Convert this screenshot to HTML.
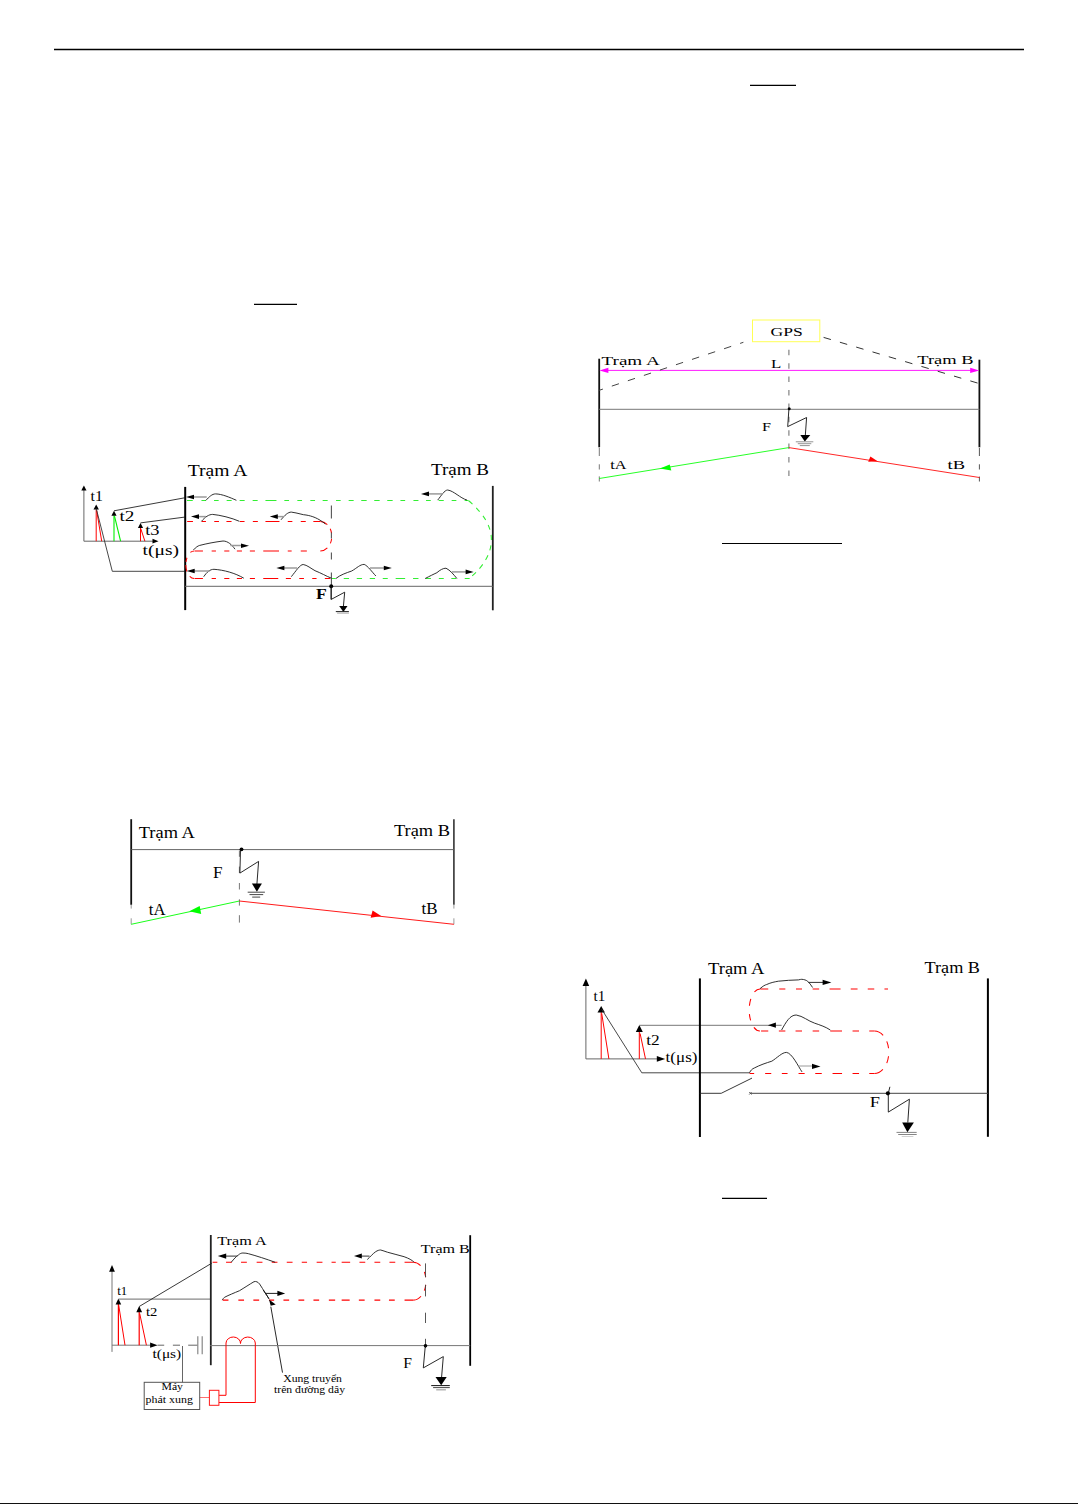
<!DOCTYPE html>
<html><head><meta charset="utf-8"><style>
html,body{margin:0;padding:0;background:#fff;}
body{width:1078px;height:1504px;overflow:hidden;position:relative;}
svg{position:absolute;left:0;top:0;}
text{font-family:"Liberation Serif", serif;}
</style></head><body>
<svg width="1078" height="1504" viewBox="0 0 1078 1504">
<path d="M54 49.5 H1024" fill="none" stroke="#000" stroke-width="1.6" />
<path d="M254 304.4 H297" fill="none" stroke="#000" stroke-width="1.4" />
<path d="M750 85.4 H796" fill="none" stroke="#000" stroke-width="1.4" />
<path d="M722 543.5 H842" fill="none" stroke="#000" stroke-width="1.2" />
<path d="M722 1198.4 H767" fill="none" stroke="#000" stroke-width="1.4" />
<rect x="0" y="1503" width="1078" height="1" fill="#111"/>
<path d="M83.9 541.2 V490" fill="none" stroke="#666" stroke-width="1" /><polygon points="83.9,485.6 81.30000000000001,490.6 86.5,490.6" fill="#000"/><path d="M83.9 541.2 H153" fill="none" stroke="#666" stroke-width="1" /><polygon points="158.5,541.2 152.5,538.8000000000001 152.5,543.6" fill="#000"/><path d="M96.2 541.2 V509.5" fill="none" stroke="#ff0000" stroke-width="1" /><path d="M96.7 510.6 L101.7 541.2" fill="none" stroke="#ff0000" stroke-width="1" /><polygon points="96.2,504.5 93.5,509.5 98.9,509.5" fill="#000"/><path d="M114 541.2 V515.6" fill="none" stroke="#00f000" stroke-width="1.1" /><path d="M114.5 516.2 L120.6 541.2" fill="none" stroke="#00f000" stroke-width="1.1" /><polygon points="114,510.8 111.4,515.8 116.6,515.8" fill="#000"/><path d="M140.5 541.2 V527.9" fill="none" stroke="#ff0000" stroke-width="1" /><path d="M140.7 528.4 L144.9 541.2" fill="none" stroke="#ff0000" stroke-width="1" /><polygon points="140.5,522.9 137.9,527.9 143.1,527.9" fill="#000"/><path d="M96.2 508.4 L112.3 571.3 H184.7" fill="none" stroke="#333" stroke-width="0.9" /><path d="M114 510.8 L184.7 497.8" fill="none" stroke="#222" stroke-width="0.9" /><path d="M140.5 522.9 L184.7 517.1" fill="none" stroke="#222" stroke-width="0.9" /><text x="90.5" y="501" font-size="15" font-weight="normal" fill="#000" textLength="12.3" lengthAdjust="spacingAndGlyphs" >t1</text><text x="119.5" y="520.6" font-size="15" font-weight="normal" fill="#000" textLength="15.0" lengthAdjust="spacingAndGlyphs" >t2</text><text x="145.2" y="534.6" font-size="15" font-weight="normal" fill="#000" textLength="14.3" lengthAdjust="spacingAndGlyphs" >t3</text><text x="142.5" y="555.2" font-size="15" font-weight="normal" fill="#000" textLength="36.5" lengthAdjust="spacingAndGlyphs" >t(&#956;s)</text><text x="187.8" y="475.8" font-size="16" font-weight="normal" fill="#000" textLength="59.7" lengthAdjust="spacingAndGlyphs" >Tr&#7841;m A</text><text x="431" y="475" font-size="16" font-weight="normal" fill="#000" textLength="58.0" lengthAdjust="spacingAndGlyphs" >Tr&#7841;m B</text><text x="316" y="599" font-size="14.5" font-weight="bold" fill="#000" textLength="10.8" lengthAdjust="spacingAndGlyphs" >F</text><path d="M185.2 486.9 V610.1" fill="none" stroke="#000" stroke-width="2" /><path d="M492.8 485.9 V610.3" fill="none" stroke="#222" stroke-width="1.8" /><path d="M186.95 500.5 H192.75 M201.45 500.5 H206.05 M214.05 500.5 H218.65 M226.65 500.5 H231.65 M239.65 500.5 H244.65 M252.65 500.5 H257.65 M265.45 500.5 H276.45 M284.35 500.5 H289.05 M297.35 500.5 H302.05 M310.35 500.5 H315.05 M322.65 500.5 H327.65 M336.05 500.5 H340.65 M348.65 500.5 H353.65 M361.25 500.5 H366.65 M374.25 500.5 H379.65 M387.25 500.5 H392.65 M400.45 500.5 H405.15 M413.45 500.5 H418.45 M426.05 500.5 H430.75 M438.65 500.5 H443.75 M451.65 500.5 H456.35 M464.65 500.5 H468.15" fill="none" stroke="#33ee33" stroke-width="1.05" /><path d="M468.4 500.5 Q491.4 520 491.4 539.5 Q491.4 560 469.3 578.5" fill="none" stroke="#33ee33" stroke-width="1.05" stroke-dasharray="5.2 5.3" /><path d="M331.65 578.5 H335.75 M343.75 578.5 H349.05 M356.75 578.5 H362.05 M369.75 578.5 H375.05 M382.75 578.5 H387.75 M395.65 578.5 H405.15 M413.05 578.5 H418.45 M425.55 578.5 H430.95 M438.85 578.5 H443.75 M451.35 578.5 H456.25 M464.75 578.5 H469.65" fill="none" stroke="#33ee33" stroke-width="1.05" /><path d="M187.15 521.5 H192.95 M201.65 521.5 H205.95 M214.25 521.5 H218.95 M226.45 521.5 H231.55 M239.85 521.5 H244.55 M252.85 521.5 H257.85 M265.45 521.5 H279.45 M287.75 521.5 H292.35 M300.75 521.5 H305.75 M313.35 521.5 H320.15" fill="none" stroke="#ff0000" stroke-width="1.05" /><path d="M320.3 521.5 A11.5 14.75 0 0 1 331.8 536.25 A11.5 14.75 0 0 1 320.3 551" fill="none" stroke="#ff0000" stroke-width="1.05" stroke-dasharray="7.9 5 4.7 5.5 4.7 5.4 8.2 20" /><path d="M194.55 551.0 H202.95 M211.65 551.0 H215.95 M224.25 551.0 H229.35 M236.85 551.0 H241.95 M249.85 551.0 H254.95 M263.25 551.0 H279.05 M287.75 551.0 H291.65 M300.75 551.0 H306.85" fill="none" stroke="#ff0000" stroke-width="1.05" /><path d="M194.1 551 A8.3 13.75 0 0 0 185.8 564.75 A8.3 13.75 0 0 0 194.1 578.5" fill="none" stroke="#ff0000" stroke-width="1.05" stroke-dasharray="4.1 6.3 4.2 3.2 6.5 5.6 5.3 20" /><path d="M194.55 578.5 H202.95 M211.65 578.5 H215.95 M224.25 578.5 H229.35 M236.85 578.5 H241.95 M249.85 578.5 H254.95 M263.25 578.5 H278.25 M285.85 578.5 H290.95 M299.25 578.5 H303.95 M312.25 578.5 H316.55 M324.85 578.5 H330.25" fill="none" stroke="#ff0000" stroke-width="1.05" /><path d="M331.4 505.5 V518.5 M331.4 532.5 V538.5 M331.4 552.5 V559.5 M331.4 572.5 V599" fill="none" stroke="#555" stroke-width="1.1" /><path d="M185 586.3 H492.8" fill="none" stroke="#666" stroke-width="1" /><circle cx="331.2" cy="586.3" r="2" fill="#000"/><path d="M331 586.3 V599.5 L344.7 592.2 L343.4 606.5" fill="none" stroke="#111" stroke-width="0.9" /><polygon points="339.2,606 347.5,606 343.4,612" fill="#000"/><path d="M335.8 611.6 H348.9" fill="none" stroke="#222" stroke-width="1" /><path d="M337.1 613.1 H348.9" fill="none" stroke="#bbb" stroke-width="1.4" /><path d="M206 500.3 C209 497 212 493.9 215.6 493.9 C222 494 230 497.5 236.4 500.3" fill="none" stroke="#1a1a1a" stroke-width="0.9" /><path d="M206.7 497 H194" fill="none" stroke="#9a9a9a" stroke-width="1.5" /><polygon points="186,497 194,494.7 194,499.3" fill="#000"/><path d="M201.5 521.3 C205 517 209 514.4 212.6 514.4 C220 515 232 518 239.4 521.3" fill="none" stroke="#1a1a1a" stroke-width="0.9" /><path d="M206 516.6 H198" fill="none" stroke="#9a9a9a" stroke-width="1.5" /><polygon points="191,516.6 199,514.3000000000001 199,518.9" fill="#000"/><path d="M281 519.8 C285 515 288 512.1 291.3 512.1 C298 513 303 515 306 515 C312 516 318 518 325.4 524" fill="none" stroke="#1a1a1a" stroke-width="0.9" /><path d="M283.9 516.6 H277" fill="none" stroke="#9a9a9a" stroke-width="1.5" /><polygon points="269.8,516.6 277.8,514.3000000000001 277.8,518.9" fill="#000"/><path d="M193.4 550 C196 547 198 546 199.3 545.5 C207 543.5 215 542 223 541 C228 541 232 545 235 549.2" fill="none" stroke="#1a1a1a" stroke-width="0.9" /><path d="M230.4 545.5 H242" fill="none" stroke="#9a9a9a" stroke-width="1.5" /><polygon points="249,545.8 241,543.5 241,548.0999999999999" fill="#000"/><path d="M203.7 576.7 C207 572 210 569.3 214 569.3 C224 570 235 573 243.8 578.2" fill="none" stroke="#1a1a1a" stroke-width="0.9" /><path d="M209.7 571 H194" fill="none" stroke="#9a9a9a" stroke-width="1.5" /><polygon points="186.7,571 194.7,568.7 194.7,573.3" fill="#000"/><path d="M291.3 576.7 C296 571 300 564.5 303.2 564.5 C307 565 311 568.5 315 570.7 C321 573 326 576 331.4 578.2" fill="none" stroke="#1a1a1a" stroke-width="0.9" /><path d="M297.2 568 H284" fill="none" stroke="#9a9a9a" stroke-width="1.5" /><polygon points="276.4,568 284.4,565.7 284.4,570.3" fill="#000"/><path d="M437.7 500.1 C441 496 444.5 490 447.7 490 C454 491 460 498 467 500.1" fill="none" stroke="#1a1a1a" stroke-width="0.9" /><path d="M442.7 493.9 H428" fill="none" stroke="#9a9a9a" stroke-width="1.5" /><polygon points="421,493.9 429,491.59999999999997 429,496.2" fill="#000"/><path d="M335.9 578.5 C340 575 346 573 351.7 571 C357 568 360 564.4 364.2 564.4 C368 566 372 572 375.9 576" fill="none" stroke="#1a1a1a" stroke-width="0.9" /><path d="M370 568 H385" fill="none" stroke="#9a9a9a" stroke-width="1.5" /><polygon points="391.8,568 383.8,565.7 383.8,570.3" fill="#000"/><path d="M425.2 578.5 C430 576 433 574.5 436.9 572.7 C440 570 443 568.2 446 568.2 C450 570 454 575 456.9 578.5" fill="none" stroke="#1a1a1a" stroke-width="0.9" /><path d="M451.9 571.9 H467" fill="none" stroke="#9a9a9a" stroke-width="1.5" /><polygon points="473.6,571.9 465.6,569.6 465.6,574.1999999999999" fill="#000"/>
<path d="M599.2 358.7 V447.3" fill="none" stroke="#111" stroke-width="1.8" /><path d="M599.3 448 V456 M599.3 464.3 V469.5 M599.3 476.4 V481.5" fill="none" stroke="#777" stroke-width="1" /><path d="M979.4 359.7 V447.3" fill="none" stroke="#111" stroke-width="1.8" /><path d="M979.4 448 V456 M979.4 464.3 V469.5 M979.4 476.6 V481.5" fill="none" stroke="#555" stroke-width="1" /><text x="601.5" y="364.8" font-size="13.2" font-weight="normal" fill="#000" textLength="58.3" lengthAdjust="spacingAndGlyphs" >Tr&#7841;m A</text><text x="917.3" y="363.7" font-size="13.5" font-weight="normal" fill="#000" textLength="56.3" lengthAdjust="spacingAndGlyphs" >Tr&#7841;m B</text><path d="M607 370.4 H971" fill="none" stroke="#ff00ff" stroke-width="0.9" /><polygon points="599.4,370.4 608.4,367.79999999999995 608.4,373.0" fill="#ff00ff"/><polygon points="979.2,370.4 970.2,367.79999999999995 970.2,373.0" fill="#ff00ff"/><path d="M599.2 390.3 L743.4 342.3" fill="none" stroke="#444" stroke-width="1" stroke-dasharray="7.5 9.4" stroke-dashoffset="3.6"/><path d="M823.6 337.4 L979.4 383.6" fill="none" stroke="#333" stroke-width="1" stroke-dasharray="7.6 9.4" /><rect x="752.5" y="320" width="67.3" height="21.7" fill="none" stroke="#ffff55" stroke-width="1"/><text x="770.6" y="336.1" font-size="13" font-weight="normal" fill="#000" textLength="32.2" lengthAdjust="spacingAndGlyphs" >GPS</text><text x="771" y="367.8" font-size="13" font-weight="normal" fill="#000" textLength="10.3" lengthAdjust="spacingAndGlyphs" >L</text><path d="M788.9 349.8 V481.6" fill="none" stroke="#777" stroke-width="1.1" stroke-dasharray="5.5 7.9" /><path d="M599.2 409.3 H979.4" fill="none" stroke="#777" stroke-width="1" /><circle cx="789.2" cy="408.8" r="1.5" fill="#000"/><path d="M788.9 409.2 L787.7 426.6 L806.6 417.5 L805.3 435.6" fill="none" stroke="#111" stroke-width="0.9" /><polygon points="800.3,435.1 810.3,435.1 804.8,441.6" fill="#000"/><path d="M795.8 441.8 H813.3 M797.8 443.7 H811.3 M799.8 445.6 H809.8" fill="none" stroke="#888" stroke-width="0.9" /><text x="762" y="430.6" font-size="13" font-weight="normal" fill="#000" textLength="9.0" lengthAdjust="spacingAndGlyphs" >F</text><path d="M788.9 447.6 L599.2 478.5" fill="none" stroke="#00ff00" stroke-width="0.85" /><polygon points="660,468.4 669.7,464.5 671.3,470.6" fill="#00ff00"/><path d="M788.9 447.6 L979.4 477.5" fill="none" stroke="#ff0000" stroke-width="0.85" /><polygon points="877.6,461.3 870.4,456.5 868.2,461.7" fill="#ff0000"/><text x="610.2" y="469.4" font-size="13" font-weight="normal" fill="#000" textLength="16.3" lengthAdjust="spacingAndGlyphs" >tA</text><text x="947.5" y="469.4" font-size="13" font-weight="normal" fill="#000" textLength="17.5" lengthAdjust="spacingAndGlyphs" >tB</text>
<path d="M131.2 819.2 V904.8" fill="none" stroke="#111" stroke-width="1.8" /><path d="M131.2 904.8 V908.6 M131.2 918.3 V924.3" fill="none" stroke="#999" stroke-width="1" /><path d="M453.9 819.2 V904.8" fill="none" stroke="#333" stroke-width="1.6" /><path d="M453.9 904.8 V908.6 M453.9 918.3 V924.3" fill="none" stroke="#999" stroke-width="1" /><text x="138.8" y="837.5" font-size="16" font-weight="normal" fill="#000" textLength="56.0" lengthAdjust="spacingAndGlyphs" >Tr&#7841;m A</text><text x="394" y="835.9" font-size="16" font-weight="normal" fill="#000" textLength="56.0" lengthAdjust="spacingAndGlyphs" >Tr&#7841;m B</text><path d="M131.4 849.6 H453.6" fill="none" stroke="#666" stroke-width="1" /><circle cx="241.5" cy="849.3" r="1.9" fill="#000"/><path d="M239.4 850.5 V856.8 M239.4 866.6 V873 M239.4 883 V889.5 M239.4 899.3 V905.6 M239.4 915.2 V922.6" fill="none" stroke="#777" stroke-width="1" /><path d="M240.5 850 L239.9 873.1 L258.6 861.4 L256.9 884.3" fill="none" stroke="#111" stroke-width="0.9" /><polygon points="251.9,883.5 261.9,883.5 256.9,891.8" fill="#000"/><path d="M247.7 892.2 H264.9 M249.5 894.6 H263.2 M252.2 897.1 H260.2" fill="none" stroke="#333" stroke-width="0.9" /><text x="213" y="877.9" font-size="17" font-weight="normal" fill="#000" textLength="9.5" lengthAdjust="spacingAndGlyphs" >F</text><path d="M239.4 901 L131.2 924.3" fill="none" stroke="#00ff00" stroke-width="0.9" /><polygon points="189.3,911.3 199.7,906.1 201.2,913.9" fill="#00ff00"/><path d="M239.4 901 L453.9 924.3" fill="none" stroke="#ff0000" stroke-width="0.9" /><polygon points="381.2,916.1 372.6,910.6 370.6,917.8" fill="#ff0000"/><text x="148.8" y="914.8" font-size="16" font-weight="normal" fill="#000" textLength="16.7" lengthAdjust="spacingAndGlyphs" >tA</text><text x="421.5" y="914.1" font-size="16" font-weight="normal" fill="#000" textLength="16.0" lengthAdjust="spacingAndGlyphs" >tB</text>
<path d="M585.9 1058.9 V985" fill="none" stroke="#666" stroke-width="1" /><polygon points="585.9,978.4 582.6,985.9 589.1999999999999,985.9" fill="#000"/><path d="M585.9 1058.9 H657" fill="none" stroke="#666" stroke-width="1" /><polygon points="665.2,1058.9 656.8000000000001,1056.1000000000001 656.8000000000001,1061.7" fill="#000"/><text x="593.6" y="1001.2" font-size="15" font-weight="normal" fill="#000" textLength="11.7" lengthAdjust="spacingAndGlyphs" >t1</text><path d="M601.2 1058.9 V1012" fill="none" stroke="#ff0000" stroke-width="1" /><path d="M601.7 1013.4 L608.9 1058.9" fill="none" stroke="#ff0000" stroke-width="1" /><polygon points="601.2,1005.9 597.5,1012.6 604.9000000000001,1012.6" fill="#000"/><path d="M601.7 1009.3 L641.8 1072.8 H749.4" fill="none" stroke="#333" stroke-width="0.9" /><path d="M639.3 1058.9 V1032" fill="none" stroke="#ff0000" stroke-width="1" /><path d="M640.1 1033.5 L645.5 1058.9" fill="none" stroke="#ff0000" stroke-width="1" /><polygon points="639.3,1025.1 635.8,1032.1 642.8,1032.1" fill="#000"/><path d="M639.3 1025.3 H781.6" fill="none" stroke="#777" stroke-width="1" /><polygon points="767.9,1025.2 775.9,1022.6 775.9,1027.8" fill="#000"/><text x="646.3" y="1044.8" font-size="15" font-weight="normal" fill="#000" textLength="13.5" lengthAdjust="spacingAndGlyphs" >t2</text><text x="665.6" y="1061.6" font-size="14.5" font-weight="normal" fill="#000" textLength="31.9" lengthAdjust="spacingAndGlyphs" >t(&#956;s)</text><path d="M699.9 978.4 V1137" fill="none" stroke="#000" stroke-width="2" /><path d="M987.9 978.4 V1136.8" fill="none" stroke="#000" stroke-width="2" /><text x="708.1" y="973.9" font-size="16" font-weight="normal" fill="#000" textLength="56.4" lengthAdjust="spacingAndGlyphs" >Tr&#7841;m A</text><text x="924.5" y="972.5" font-size="16" font-weight="normal" fill="#000" textLength="55.5" lengthAdjust="spacingAndGlyphs" >Tr&#7841;m B</text><path d="M760.25 989.0 H768.25 M779.25 989.0 H785.35 M795.95 989.0 H802.05 M812.65 989.0 H819.15 M829.55 989.0 H840.55 M850.75 989.0 H857.55 M867.75 989.0 H874.25 M884.45 989.0 H888.05" fill="none" stroke="#ff0000" stroke-width="1.05" /><path d="M760 989 A10.8 21 0 0 0 749.2 1010 A10.8 21 0 0 0 760 1031" fill="none" stroke="#ff0000" stroke-width="1.05" stroke-dasharray="6.6 7.8 6.8 8.5 6.2 7.5 7.4 20" /><path d="M761.05 1031.0 H768.25 M778.85 1031.0 H785.35 M795.55 1031.0 H802.05 M812.65 1031.0 H819.15 M830.25 1031.0 H842.05 M852.55 1031.0 H859.05 M869.25 1031.0 H874.35" fill="none" stroke="#ff0000" stroke-width="1.05" /><path d="M874.4 1031 A14.4 21.25 0 0 1 888.8 1052.25 A14.4 21.25 0 0 1 874.4 1073.5" fill="none" stroke="#ff0000" stroke-width="1.05" stroke-dasharray="10.1 7 6.9 8.2 6.9 7.3 10.5 20" /><path d="M749.55 1073.5 H754.15 M765.15 1073.5 H771.25 M781.85 1073.5 H787.55 M798.55 1073.5 H804.65 M815.25 1073.5 H821.75 M832.55 1073.5 H842.05 M852.55 1073.5 H859.05 M869.25 1073.5 H874.35" fill="none" stroke="#ff0000" stroke-width="1.05" /><path d="M760 988.7 C763 986 765 985 766.7 984.5 C771 982.5 775 981.8 778.4 981.2 C785 980.5 792 980 798.4 979.9 C800 979.5 801 979.3 801.8 979.3 C804 979.5 806 980 807.6 981.2 C809.5 983 811 985 812.6 987.5" fill="none" stroke="#1a1a1a" stroke-width="0.9" /><path d="M808.4 982.4 H823" fill="none" stroke="#333" stroke-width="1" /><polygon points="831.4,982.4 822.6,979.6999999999999 822.6,985.1" fill="#000"/><path d="M781.6 1030 C786 1022 790 1015 796.2 1015 C803 1016 808 1021 814.7 1023.2 C820 1025 826 1027 830.3 1030" fill="none" stroke="#1a1a1a" stroke-width="0.9" /><path d="M749.4 1072.9 C751 1070 752 1069 754.3 1068 C760 1065 766 1063 771.8 1061.2 C777 1058 782 1052.4 786.4 1052.4 C792 1053 798 1066 802 1071.9" fill="none" stroke="#1a1a1a" stroke-width="0.9" /><path d="M799.1 1066 H812" fill="none" stroke="#9a9a9a" stroke-width="1" /><polygon points="820.5,1066.4 812.0,1063.8000000000002 812.0,1069.0" fill="#000"/><path d="M699.7 1093.3 H721.2 L752 1078.1" fill="none" stroke="#222" stroke-width="0.9" /><path d="M750.4 1093.3 H987.9" fill="none" stroke="#444" stroke-width="1" /><path d="M749.2 1092 L751.6 1094.6 M749.2 1094.6 L751.6 1092" fill="none" stroke="#444" stroke-width="0.8" /><path d="M889.9 1086.8 L888.3 1093.3 L888.3 1112.1 L909.4 1099.2 L907.8 1122.5" fill="none" stroke="#111" stroke-width="0.9" /><circle cx="887.9" cy="1093.3" r="2.1" fill="#000"/><polygon points="902.2,1122.5 913.9,1122.5 907.4,1132.3" fill="#000"/><path d="M896.5 1132.4 H916.7 M898.2 1134.5 H916.7" fill="none" stroke="#777" stroke-width="0.9" /><path d="M901.7 1136.5 H913.4" fill="none" stroke="#ccc" stroke-width="0.9" /><text x="869.8" y="1107" font-size="14" font-weight="normal" fill="#000" textLength="10.2" lengthAdjust="spacingAndGlyphs" >F</text>
<path d="M112 1351.9 V1271" fill="none" stroke="#777" stroke-width="1" /><polygon points="112,1265 109.1,1271.8 114.9,1271.8" fill="#000"/><path d="M112 1345.2 H151" fill="none" stroke="#777" stroke-width="1" /><polygon points="157.6,1345.2 150.1,1342.6000000000001 150.1,1347.8" fill="#000"/><path d="M157.5 1345.2 H164.2 M172.9 1345.2 H180 M188.2 1345.2 H197.7" fill="none" stroke="#666" stroke-width="1" /><path d="M182.5 1346 V1382.3" fill="none" stroke="#555" stroke-width="0.9" /><path d="M197.8 1336.2 V1354.3 M202.2 1336.2 V1354.3" fill="none" stroke="#888" stroke-width="1.2" /><text x="117.2" y="1295" font-size="12.8" font-weight="normal" fill="#000" textLength="10.0" lengthAdjust="spacingAndGlyphs" >t1</text><path d="M118.4 1345.2 V1304" fill="none" stroke="#ff0000" stroke-width="1.2" /><path d="M118.7 1305.1 L125 1345.2" fill="none" stroke="#ff0000" stroke-width="1" /><polygon points="118.4,1298.5 115.60000000000001,1304.5 121.2,1304.5" fill="#000"/><path d="M118.7 1299.1 H210.2" fill="none" stroke="#888" stroke-width="1.4" /><path d="M139.2 1345.2 V1312" fill="none" stroke="#ff0000" stroke-width="1.2" /><path d="M139.7 1313.5 L146.4 1345.2" fill="none" stroke="#ff0000" stroke-width="1" /><polygon points="139.2,1306 136.29999999999998,1312.2 142.1,1312.2" fill="#000"/><path d="M139.2 1306.5 L211.9 1263.1" fill="none" stroke="#222" stroke-width="0.9" /><text x="146" y="1315.8" font-size="12.8" font-weight="normal" fill="#000" textLength="11.4" lengthAdjust="spacingAndGlyphs" >t2</text><text x="152.5" y="1358.4" font-size="12.8" font-weight="normal" fill="#000" textLength="28.7" lengthAdjust="spacingAndGlyphs" >t(&#956;s)</text><path d="M210.8 1235 V1365.2" fill="none" stroke="#222" stroke-width="1.8" /><path d="M470.2 1235.2 V1365.8" fill="none" stroke="#000" stroke-width="1.8" /><text x="217.3" y="1245.4" font-size="13.5" font-weight="normal" fill="#000" textLength="49.3" lengthAdjust="spacingAndGlyphs" >Tr&#7841;m A</text><text x="420.8" y="1252.6" font-size="13.5" font-weight="normal" fill="#000" textLength="48.9" lengthAdjust="spacingAndGlyphs" >Tr&#7841;m B</text><path d="M212.65 1262.3 H217.35 M226.05 1262.3 H231.85 M241.05 1262.3 H246.85 M256.65 1262.3 H262.45 M271.75 1262.3 H277.45 M286.75 1262.3 H292.55 M301.75 1262.3 H307.05 M316.65 1262.3 H322.45 M331.55 1262.3 H335.75 M341.65 1262.3 H350.15 M359.45 1262.3 H365.25 M374.45 1262.3 H380.25 M389.45 1262.3 H395.25 M404.55 1262.3 H413.35" fill="none" stroke="#ff0000" stroke-width="1.05" /><path d="M413.4 1262.3 A12.6 18.9 0 0 1 426 1281.2 A12.6 18.9 0 0 1 413.4 1300.1" fill="none" stroke="#ff0000" stroke-width="1.05" stroke-dasharray="8.2 7.2 5.3 7.9 5.8 6.4 9.2 20" /><path d="M222.75 1300.1 H228.45 M238.35 1300.1 H244.05 M253.35 1300.1 H259.15 M268.95 1300.1 H274.15 M283.45 1300.1 H289.15 M298.45 1300.1 H304.25 M313.45 1300.1 H319.15 M328.85 1300.1 H335.15 M341.65 1300.1 H349.65 M358.85 1300.1 H364.65 M374.45 1300.1 H380.25 M388.95 1300.1 H394.75 M404.55 1300.1 H413.35" fill="none" stroke="#ff0000" stroke-width="1.05" /><path d="M231.2 1262.3 C234 1259 236 1256.5 238.4 1255 C240 1253.5 241.5 1253 242.9 1253 C245 1253 247 1253.3 248.4 1253.7 C257 1256 266 1259 275.2 1262.3" fill="none" stroke="#1a1a1a" stroke-width="0.9" /><path d="M237.3 1256.1 H225" fill="none" stroke="#333" stroke-width="1" /><polygon points="217.8,1256.1 226.20000000000002,1253.5 226.20000000000002,1258.6999999999998" fill="#000"/><path d="M222.3 1300.1 C223 1298.8 223.7 1297.9 224.5 1297.3 C229 1295 234 1293 239.5 1290.7 C244 1288 250 1284 254 1281.7 C256 1281 258 1282 259.6 1284 C261.5 1287 263.5 1290 265.1 1292.9 C266.5 1295 268 1296.5 269 1299" fill="none" stroke="#1a1a1a" stroke-width="0.9" /><path d="M265.1 1293.4 H278" fill="none" stroke="#222" stroke-width="1" /><polygon points="285.2,1293.4 277.4,1290.7 277.4,1296.1000000000001" fill="#000"/><path d="M367.3 1259.5 C370 1257 373 1253.5 375.7 1251.7 C377.5 1250.5 379 1250 380.7 1250 C383 1250.5 385 1251.5 387.4 1252.2 C393 1254 399 1255 404.1 1256.7 C409 1258.5 412 1260 414.1 1262.3" fill="none" stroke="#1a1a1a" stroke-width="0.9" /><path d="M369.5 1256.1 H361" fill="none" stroke="#333" stroke-width="1" /><polygon points="354,1256.1 361.8,1253.6 361.8,1258.6" fill="#000"/><path d="M282.5 1372.6 L270.8 1306.7" fill="none" stroke="#111" stroke-width="0.9" /><polygon points="269,1299.6 270.7,1305.7 275.7,1304.6" fill="#000"/><path d="M263.3 1290 L268.8 1298.5" fill="none" stroke="#111" stroke-width="0.9" /><path d="M425.5 1263.4 V1277.3 M425.5 1284.8 V1296.4 M425.5 1312.7 V1323 M425.5 1338.8 V1348" fill="none" stroke="#444" stroke-width="0.9" /><path d="M210.2 1345.6 H470.2" fill="none" stroke="#777" stroke-width="1" /><circle cx="425.5" cy="1345.7" r="1.8" fill="#000"/><path d="M425.3 1345.8 L423.3 1367.9 L443.3 1356.6 L441.6 1377" fill="none" stroke="#111" stroke-width="0.9" /><polygon points="435.5,1377 446.7,1377 441.2,1385.2" fill="#000"/><path d="M431.2 1385.6 H449.8" fill="none" stroke="#111" stroke-width="1" /><path d="M433.1 1387.6 H449.8" fill="none" stroke="#333" stroke-width="0.9" /><path d="M436.2 1389.8 H445.9" fill="none" stroke="#aaa" stroke-width="1.3" /><text x="403.3" y="1367.8" font-size="14" font-weight="normal" fill="#000" textLength="8.7" lengthAdjust="spacingAndGlyphs" >F</text><path d="M226 1395.3 V1343 A7.2 6.2 0 0 1 240.5 1343.5 A7.4 6.2 0 0 1 255.3 1343 V1402.5 H219 M219 1395.3 H226" fill="none" stroke="#ff0000" stroke-width="1" /><path d="M199.7 1397.5 H209.4" fill="none" stroke="#ff7070" stroke-width="1" /><rect x="209.4" y="1390.3" width="9.5" height="15" fill="none" stroke="#ff1a1a" stroke-width="1"/><rect x="144.2" y="1382.3" width="55.5" height="27.2" fill="none" stroke="#555" stroke-width="1"/><text x="161.5" y="1390.3" font-size="10" font-weight="normal" fill="#000" textLength="21.5" lengthAdjust="spacingAndGlyphs" >M&#225;y</text><text x="145.6" y="1402.8" font-size="10" font-weight="normal" fill="#000" textLength="47.4" lengthAdjust="spacingAndGlyphs" >ph&#225;t xung</text><text x="283.2" y="1381.7" font-size="10" font-weight="normal" fill="#000" textLength="58.8" lengthAdjust="spacingAndGlyphs" >Xung truy&#7875;n</text><text x="274" y="1392.8" font-size="10" font-weight="normal" fill="#000" textLength="71.0" lengthAdjust="spacingAndGlyphs" >tr&#234;n &#273;&#432;&#7901;ng d&#226;y</text>
</svg>
</body></html>
